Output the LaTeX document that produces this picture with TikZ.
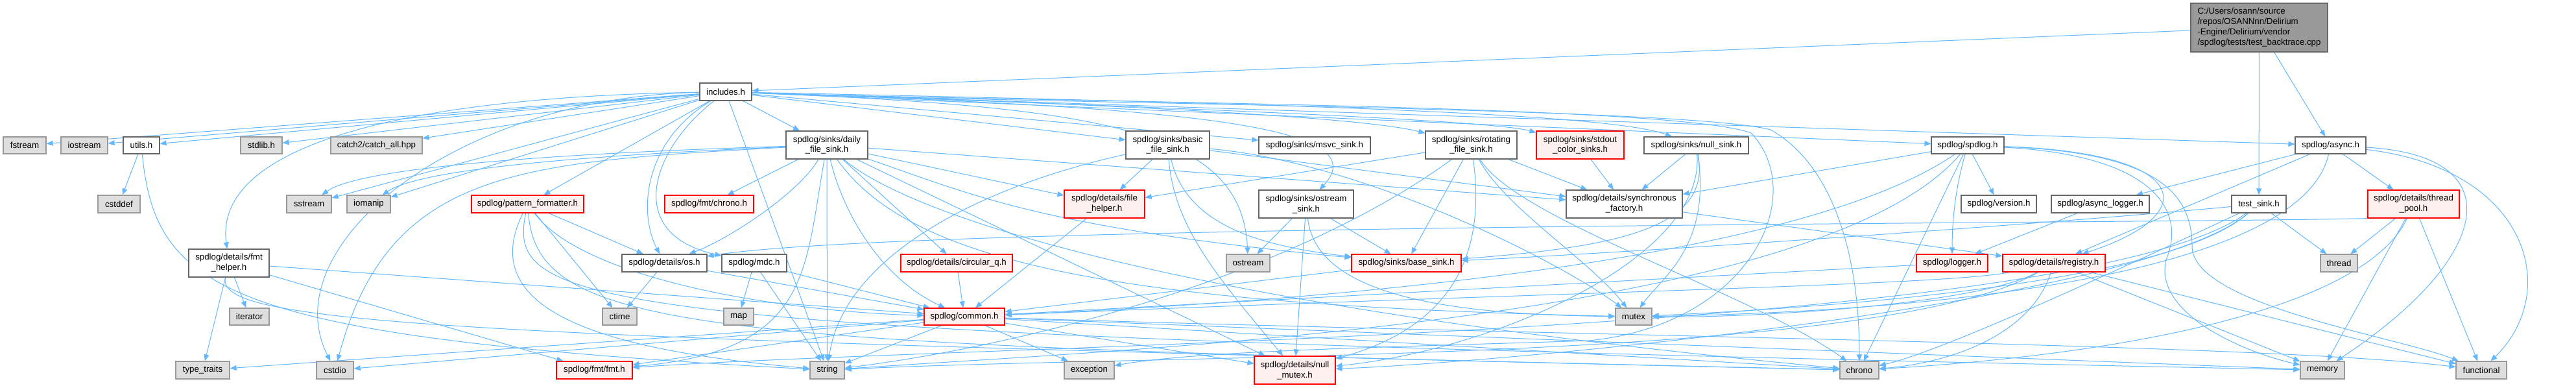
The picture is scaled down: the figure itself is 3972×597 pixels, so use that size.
\documentclass[tikz,border=0pt]{standalone}
\usepackage{fontspec}
\setmainfont{Liberation Sans}
\usetikzlibrary{arrows.meta}
\definecolor{edgeblue}{HTML}{63B8FF}
\definecolor{gfour}{HTML}{666666}
\definecolor{gsix}{HTML}{999999}
\definecolor{geight}{HTML}{DEDEDE}
\definecolor{pinkfill}{HTML}{FFF0F0}
\pgfdeclarelayer{bg}
\pgfsetlayers{bg,main}
\begin{document}
\begin{tikzpicture}[x=1pt,y=-1pt,
  nbase/.style={rectangle, line width=1.2pt, inner sep=0pt, align=center, font=\fontsize{13.3}{16}\selectfont, text=black},
  sz/.style 2 args={minimum width=#1pt, minimum height=#2pt},
  hdr/.style={nbase, draw=gfour, fill=white},
  sys/.style={nbase, draw=gsix, fill=geight},
  trunc/.style={nbase, draw=red, fill=pinkfill},
  rootn/.style={nbase, draw=gfour, fill=gsix, align=left},
  dep/.style={draw=edgeblue, line width=1pt, -{Triangle[length=10pt,width=8pt]}}
]
\path[use as bounding box] (0,0) rectangle (3972,597);
% row 0/1
\node[rootn,sz={211}{75}] (root) at (3483.5,42.5) {C:/Users/osann/source\\/repos/OSANNnn/Delirium\\-Engine/Delirium/vendor\\/spdlog/tests/test\_backtrace.cpp};
\node[hdr,sz={80}{27}] (inc) at (1119,141.5) {includes.h};
% row 2
\node[sys,sz={66}{26}] (fstream) at (38,224) {fstream};
\node[sys,sz={72}{26}] (iostream) at (130,224) {iostream};
\node[hdr,sz={56}{26}] (utils) at (218,224) {utils.h};
\node[sys,sz={64}{26}] (stdlib) at (403,224) {stdlib.h};
\node[sys,sz={141}{26}] (catch) at (580.5,224) {catch2/catch\_all.hpp};
\node[hdr,sz={126}{43}] (daily) at (1275,223.5) {spdlog/sinks/daily\\\_file\_sink.h};
\node[hdr,sz={129}{43}] (basic) at (1800.5,223.5) {spdlog/sinks/basic\\\_file\_sink.h};
\node[hdr,sz={172}{26}] (msvc) at (2027,224) {spdlog/sinks/msvc\_sink.h};
\node[hdr,sz={141}{43}] (rotating) at (2268.5,223.5) {spdlog/sinks/rotating\\\_file\_sink.h};
\node[trunc,sz={135}{43}] (stdout) at (2436.5,223.5) {spdlog/sinks/stdout\\\_color\_sinks.h};
\node[hdr,sz={161}{26}] (nullsink) at (2615.5,224) {spdlog/sinks/null\_sink.h};
\node[hdr,sz={112}{26}] (spdlog) at (3034,224) {spdlog/spdlog.h};
\node[hdr,sz={109}{26}] (async) at (3593.5,224) {spdlog/async.h};
% row 3
\node[sys,sz={65}{27}] (cstddef) at (183.5,314.5) {cstddef};
\node[sys,sz={69}{27}] (sstream) at (476.5,314.5) {sstream};
\node[sys,sz={67}{27}] (iomanip) at (568.5,314.5) {iomanip};
\node[trunc,sz={173}{27}] (pattern) at (813.5,314.5) {spdlog/pattern\_formatter.h};
\node[trunc,sz={137}{27}] (fmtchrono) at (1093.5,314.5) {spdlog/fmt/chrono.h};
\node[trunc,sz={124}{43}] (filehelper) at (1703,314.5) {spdlog/details/file\\\_helper.h};
\node[hdr,sz={146}{43}] (ostreamsink) at (2014,314.5) {spdlog/sinks/ostream\\\_sink.h};
\node[hdr,sz={179}{43}] (sync) at (2504.5,314.5) {spdlog/details/synchronous\\\_factory.h};
\node[hdr,sz={116}{27}] (version) at (3082,314.5) {spdlog/version.h};
\node[hdr,sz={151}{27}] (asynclogger) at (3238.5,314.5) {spdlog/async\_logger.h};
\node[hdr,sz={84}{27}] (testsink) at (3483,314.5) {test\_sink.h};
\node[trunc,sz={141}{43}] (threadpool) at (3721.5,314.5) {spdlog/details/thread\\\_pool.h};
% row 4
\node[hdr,sz={124}{43}] (fmthelper) at (353,405.5) {spdlog/details/fmt\\\_helper.h};
\node[hdr,sz={131}{27}] (os) at (1024.5,405.5) {spdlog/details/os.h};
\node[hdr,sz={100}{27}] (mdc) at (1163,405.5) {spdlog/mdc.h};
\node[trunc,sz={172}{27}] (circq) at (1475,405.5) {spdlog/details/circular\_q.h};
\node[sys,sz={67}{27}] (ostream) at (1924.5,405.5) {ostream};
\node[trunc,sz={169}{27}] (basesink) at (2168.5,405.5) {spdlog/sinks/base\_sink.h};
\node[trunc,sz={110}{27}] (logger) at (3010,405.5) {spdlog/logger.h};
\node[trunc,sz={158}{27}] (registry) at (3167,405.5) {spdlog/details/registry.h};
\node[sys,sz={57}{27}] (thread) at (3606.5,405.5) {thread};
% row 5
\node[sys,sz={61}{26}] (iterator) at (384.5,488) {iterator};
\node[sys,sz={53}{26}] (ctime) at (955.5,488) {ctime};
\node[sys,sz={46}{26}] (map) at (1139,488) {map};
\node[trunc,sz={124}{26}] (common) at (1487,488) {spdlog/common.h};
\node[sys,sz={56}{26}] (mutex) at (2519,488) {mutex};
% row 6
\node[sys,sz={83}{27}] (typetraits) at (312.5,570.5) {type\_traits};
\node[sys,sz={57}{27}] (cstdio) at (516.5,570.5) {cstdio};
\node[trunc,sz={117}{27}] (fmth) at (916.5,570.5) {spdlog/fmt/fmt.h};
\node[sys,sz={53}{27}] (string) at (1275.5,570.5) {string};
\node[sys,sz={77}{27}] (exception) at (1679.5,570.5) {exception};
\node[trunc,sz={125}{43}] (nullmutex) at (1996.5,570.5) {spdlog/details/null\\\_mutex.h};
\node[sys,sz={60}{27}] (chrono) at (2867,570.5) {chrono};
\node[sys,sz={68}{27}] (memory) at (3581,570.5) {memory};
\node[sys,sz={78}{27}] (functional) at (3826,570.5) {functional};

\begin{pgfonlayer}{bg}
\fill[white] (0,0) rectangle (3972,597);
% root
\draw[dep] (root) -- (inc);
\draw[dep] (root) -- (testsink);
\draw[dep] (root) -- (async);
% includes.h
\foreach \t in {fstream,iostream,utils,stdlib,catch,sstream,iomanip,pattern,daily,string,basic,msvc,spdlog,async}
  \draw[dep] (inc) -- (\t);
\draw[dep] (inc) .. controls (700,150) and (420,380) .. (cstdio);
\draw[dep] (inc) .. controls (600,150) and (330,230) .. (fmthelper);
\draw[dep] (inc) .. controls (990,220) and (985,330) .. (os);
\draw[dep] (inc) .. controls (1005,230) and (960,360) .. (mdc);
\draw[dep] (inc) .. controls (1700,165) and (1915,200) .. (ostream);
\draw[dep] (inc) .. controls (1800,165) and (2130,190) .. (ostreamsink);
\draw[dep] (inc) .. controls (1700,160) and (2100,180) .. (rotating);
\draw[dep] (inc) .. controls (1800,165) and (2300,185) .. (stdout);
\draw[dep] (inc) .. controls (2000,160) and (2480,175) .. (nullsink);
\draw[dep] (inc) .. controls (1600,160) and (2600,165) .. (2730,200) .. controls (2820,250) and (2867,380) .. (chrono);
\draw[dep] (inc) .. controls (1600,158) and (2580,160) .. (2700,205) .. controls (2790,300) and (2700,500) .. (2450,525) .. controls (2150,535) and (1850,540) .. (exception);
% utils
\draw[dep] (utils) -- (cstddef);
\draw[dep] (utils) .. controls (240,450) and (350,520) .. (string);
% fmt_helper
\draw[dep] (fmthelper) -- (typetraits);
\draw[dep] (fmthelper) -- (iterator);
\draw[dep] (fmthelper) -- (fmth);
\draw[dep] (fmthelper) -- (common);
\draw[dep] (fmthelper) .. controls (330,500) and (700,520) .. (chrono);
% pattern_formatter
\draw[dep] (pattern) -- (os);
\draw[dep] (pattern) -- (ctime);
\draw[dep] (pattern) .. controls (900,430) and (1200,480) .. (common);
\draw[dep] (pattern) .. controls (830,520) and (1100,530) .. (chrono);
\draw[dep] (pattern) .. controls (780,480) and (900,515) .. (memory);
\draw[dep] (pattern) .. controls (720,500) and (1000,545) .. (string);
% os, mdc
\draw[dep] (os) -- (ctime);
\draw[dep] (os) -- (common);
\draw[dep] (mdc) -- (map);
\draw[dep] (mdc) -- (string);
\draw[dep] (mdc) -- (common);
% daily
\draw[dep] (daily) -- (fmtchrono);
\draw[dep] (daily) .. controls (1230,300) and (1120,370) .. (os);
\draw[dep] (daily) -- (circq);
\draw[dep] (daily) .. controls (1300,330) and (1360,430) .. (common);
\draw[dep] (daily) -- (filehelper);
\draw[dep] (daily) -- (nullmutex);
\draw[dep] (daily) -- (sync);
\draw[dep] (daily) .. controls (1240,420) and (1250,540) .. (fmth);
\draw[dep] (daily) .. controls (1500,300) and (1600,350) .. (basesink);
\draw[dep] (daily) .. controls (1400,330) and (1800,470) .. (chrono);
\draw[dep] (daily) .. controls (800,250) and (600,260) .. (cstdio);
\draw[dep] (daily) .. controls (900,240) and (650,260) .. (iomanip);
\draw[dep] (daily) .. controls (900,235) and (560,255) .. (sstream);
\draw[dep] (daily) .. controls (1400,400) and (1700,470) .. (mutex);
\draw[dep] (daily) -- (string);
% basic
\draw[dep] (basic) -- (filehelper);
\draw[dep] (basic) .. controls (1810,350) and (1880,430) .. (nullmutex);
\draw[dep] (basic) .. controls (1830,350) and (1950,380) .. (basesink);
\draw[dep] (basic) -- (sync);
\draw[dep] (basic) .. controls (2100,250) and (2400,400) .. (mutex);
\draw[dep] (basic) .. controls (1500,290) and (1300,400) .. (string);
% ostream_sink
\draw[dep] (ostreamsink) -- (ostream);
\draw[dep] (ostreamsink) -- (nullmutex);
\draw[dep] (ostreamsink) -- (basesink);
\draw[dep] (ostreamsink) .. controls (2030,460) and (2250,485) .. (mutex);
% rotating
\draw[dep] (rotating) -- (filehelper);
\draw[dep] (rotating) -- (basesink);
\draw[dep] (rotating) .. controls (2290,380) and (2250,500) .. (nullmutex);
\draw[dep] (rotating) -- (sync);
\draw[dep] (rotating) .. controls (2340,340) and (2700,450) .. (chrono);
\draw[dep] (rotating) .. controls (2320,320) and (2450,400) .. (mutex);
\draw[dep] (rotating) .. controls (2000,420) and (1600,530) .. (string);
% stdout
\draw[dep] (stdout) -- (sync);
% null_sink
\draw[dep] (nullsink) -- (sync);
\draw[dep] (nullsink) .. controls (2630,400) and (2300,540) .. (nullmutex);
\draw[dep] (nullsink) .. controls (2640,350) and (2500,380) .. (basesink);
\draw[dep] (nullsink) .. controls (2640,380) and (2560,430) .. (mutex);
% spdlog.h
\draw[dep] (spdlog) -- (sync);
\draw[dep] (spdlog) .. controls (2750,420) and (1900,470) .. (common);
\draw[dep] (spdlog) .. controls (3380,235) and (3400,330) .. (registry);
\draw[dep] (spdlog) .. controls (3015,290) and (3010,340) .. (logger);
\draw[dep] (spdlog) -- (version);
\draw[dep] (spdlog) -- (chrono);
\draw[dep] (spdlog) .. controls (3330,235) and (3380,300) .. (3380,380) .. controls (3380,470) and (3700,520) .. (functional);
\draw[dep] (spdlog) .. controls (3330,240) and (3370,330) .. (3340,400) .. controls (3320,480) and (3450,540) .. (memory);
\draw[dep] (spdlog) .. controls (2800,500) and (1700,540) .. (string);
% async.h
\draw[dep] (async) -- (asynclogger);
\draw[dep] (async) -- (registry);
\draw[dep] (async) -- (threadpool);
\draw[dep] (async) .. controls (3900,260) and (3950,450) .. (functional);
\draw[dep] (async) .. controls (3880,240) and (3840,400) .. (memory);
\draw[dep] (async) .. controls (3550,420) and (3000,480) .. (mutex);
% async_logger, logger
\draw[dep] (asynclogger) -- (logger);
\draw[dep] (logger) -- (common);
% registry
\draw[dep] (registry) .. controls (3000,440) and (2400,450) .. (common);
\draw[dep] (registry) .. controls (3130,520) and (3000,560) .. (chrono);
\draw[dep] (registry) -- (functional);
\draw[dep] (registry) -- (memory);
\draw[dep] (registry) .. controls (3050,470) and (2700,490) .. (mutex);
\draw[dep] (registry) .. controls (2900,560) and (1800,545) .. (string);
% others
\draw[dep] (sync) -- (registry);
\draw[dep] (basesink) -- (common);
\draw[dep] (filehelper) -- (common);
\draw[dep] (circq) -- (common);
% test_sink
\draw[dep] (testsink) .. controls (3300,470) and (2300,560) .. (nullmutex);
\draw[dep] (testsink) .. controls (3100,350) and (2500,390) .. (basesink);
\draw[dep] (testsink) .. controls (3200,520) and (1500,530) .. (fmth);
\draw[dep] (testsink) .. controls (3300,400) and (3000,540) .. (chrono);
\draw[dep] (testsink) .. controls (3350,430) and (2900,470) .. (mutex);
\draw[dep] (testsink) -- (thread);
% thread_pool
\draw[dep] (threadpool.south west) .. controls (3300,345) and (1400,345) .. (os);
\draw[dep] (threadpool) -- (thread);
\draw[dep] (threadpool) -- (memory);
\draw[dep] (threadpool) -- (functional);
\draw[dep] (threadpool) .. controls (3650,470) and (3300,545) .. (chrono);
% common
\draw[dep] (common) -- (nullmutex);
\draw[dep] (common) -- (chrono);
\draw[dep] (common) -- (cstdio);
\draw[dep] (common) -- (exception);
\draw[dep] (common) .. controls (2500,520) and (3500,530) .. (functional);
\draw[dep] (common) -- (memory);
\draw[dep] (common) -- (string);
\draw[dep] (common) -- (typetraits);
\draw[dep] (common) -- (fmth);
\end{pgfonlayer}
\end{tikzpicture}
\end{document}
